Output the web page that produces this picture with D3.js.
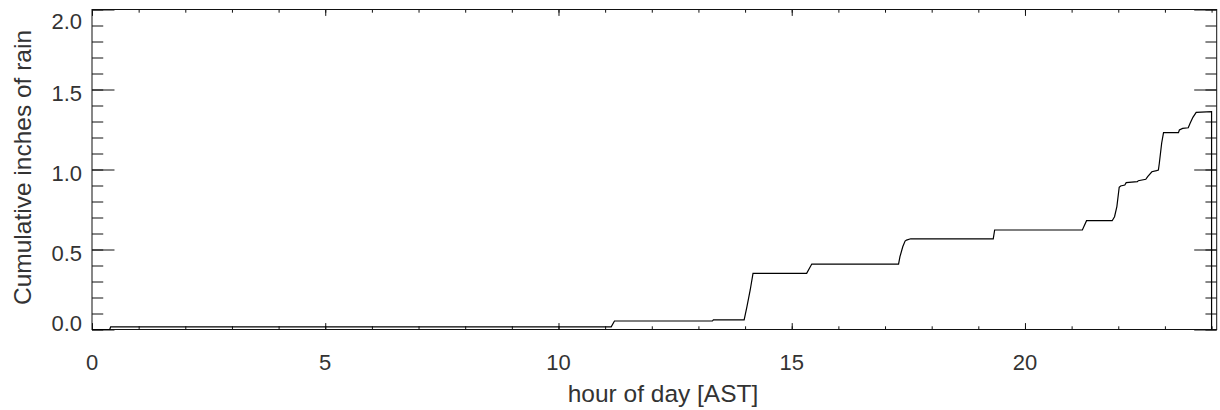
<!DOCTYPE html>
<html>
<head>
<meta charset="utf-8">
<script src="https://cdn.jsdelivr.net/npm/d3@7"></script>
<style>
  body { margin: 0; background: #fff; }
  svg text { font-family: "Liberation Sans", Arial, Helvetica, sans-serif; fill: #333; }
</style>
</head>
<body>
<svg id="chart" width="1220" height="410"></svg>
<script>
// rain gauge record (corner points of the step trace)
const hours = [0, 0.38, 0.40, 11.13, 11.20, 13.30, 13.32, 13.98, 14.04, 14.11, 14.17,
  15.32, 15.38, 15.43, 17.29, 17.32, 17.38, 17.43, 17.46, 17.55, 19.32, 19.35,
  21.23, 21.32, 21.87, 21.92, 21.97, 22.02, 22.05, 22.14, 22.17, 22.41, 22.43,
  22.59, 22.63, 22.72, 22.82, 22.86, 22.88, 22.93, 22.97, 23.29, 23.31, 23.38,
  23.50, 23.54, 23.60, 23.67, 24.00, 24.00];
const inches = [0, 0, 0.017, 0.017, 0.053, 0.053, 0.06, 0.06, 0.143, 0.247, 0.351,
  0.351, 0.383, 0.409, 0.409, 0.455, 0.517, 0.553, 0.559, 0.567, 0.567, 0.622,
  0.622, 0.68, 0.68, 0.705, 0.768, 0.889, 0.897, 0.903, 0.918, 0.924, 0.93,
  0.939, 0.955, 0.986, 0.993, 0.997, 1.039, 1.164, 1.23, 1.23, 1.247, 1.257,
  1.261, 1.289, 1.326, 1.357, 1.361, 0];

const xMajor = [0, 5, 10, 15, 20];
const xMinor = d3.range(0, 25, 1);
const yMajor = [0, 0.5, 1.0, 1.5, 2.0];
const yMinor = d3.range(0, 21).map(d => d / 10);
const xTitle = 'hour of day [AST]';
const yTitle = 'Cumulative inches of rain';

const pLeft = 92, pRight = 1216.7, pTop = 9.5, pBottom = 329.5;
const svg = d3.select('#chart');

const x = d3.scaleLinear().domain([0, 24.11]).range([pLeft, pRight]);
const y = d3.scaleLinear().domain([0, 2.0]).range([pBottom, pTop]);

// tick lengths like IDL: 2% of the other plot dimension, minor half that
const xt = 0.02 * (pBottom - pTop), yt = 0.02 * (pRight - pLeft);

function ticks(axis, vals, len, tx, ty) {
  const g = svg.append('g').attr('transform', `translate(${tx},${ty})`)
    .call(axis.tickValues(vals).tickSize(len).tickSizeOuter(0).tickFormat(''));
  g.select('.domain').remove();
  g.selectAll('line').attr('stroke', '#111').attr('stroke-width', 1);
}

ticks(d3.axisBottom(x), xMinor, -xt / 2, 0, pBottom);
ticks(d3.axisBottom(x), xMajor, -xt, 0, pBottom);
ticks(d3.axisTop(x), xMinor, -xt / 2, 0, pTop);
ticks(d3.axisTop(x), xMajor, -xt, 0, pTop);
ticks(d3.axisLeft(y), yMinor, -yt / 2, pLeft, 0);
ticks(d3.axisLeft(y), yMajor, -yt, pLeft, 0);
ticks(d3.axisRight(y), yMinor, -yt / 2, pRight, 0);
ticks(d3.axisRight(y), yMajor, -yt, pRight, 0);

svg.append('rect')
  .attr('x', pLeft).attr('y', pTop)
  .attr('width', pRight - pLeft).attr('height', pBottom - pTop)
  .attr('fill', 'none').attr('stroke', '#111').attr('stroke-width', 1);

// the trace
const pts = hours.map((h, i) => [h, inches[i]]);
svg.append('path')
  .datum(pts)
  .attr('fill', 'none').attr('stroke', '#000').attr('stroke-width', 1.2)
  .attr('d', d3.line().x(d => x(d[0])).y(d => y(d[1])));

// tick labels
svg.selectAll('.xl').data(xMajor).enter().append('text')
  .attr('x', d => x(d)).attr('y', pBottom + 40)
  .attr('text-anchor', 'middle').attr('font-size', 22)
  .text(d => d);

svg.selectAll('.yl').data(yMajor).enter().append('text')
  .attr('x', pLeft - 10)
  .attr('y', d => Math.min(Math.max(y(d) + 4, pTop + 12), pBottom - 6) + 7.5)
  .attr('text-anchor', 'end').attr('font-size', 22)
  .text(d => d.toFixed(1));

svg.append('text')
  .attr('x', 663).attr('y', 402)
  .attr('text-anchor', 'middle').attr('font-size', 24.5)
  .text(xTitle);

svg.append('text')
  .attr('transform', `translate(31,${(pTop + pBottom) / 2 - 2}) rotate(-90)`)
  .attr('text-anchor', 'middle').attr('font-size', 24.5)
  .text(yTitle);
</script>
</body>
</html>
